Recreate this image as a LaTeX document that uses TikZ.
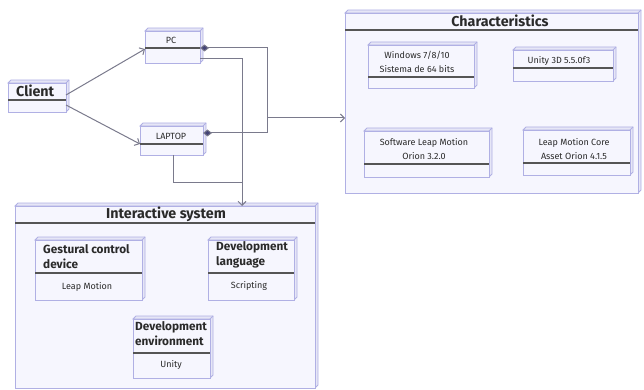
\documentclass[tikz,border=0pt]{standalone}
\usepackage{fontspec}
\setmainfont{Fira Sans}
\usetikzlibrary{arrows.meta}
\definecolor{boxline}{HTML}{B0B0E4}
\definecolor{boxfill}{HTML}{F6F6FE}
\definecolor{boxside}{HTML}{E6E6F6}
\definecolor{sepcol}{HTML}{555555}
\definecolor{conncol}{HTML}{7A7A8C}
\definecolor{txt}{HTML}{2A2A2A}
\tikzset{
  box/.style={draw=boxline, fill=boxfill, line width=0.8pt, inner sep=0pt, outer sep=0pt, rectangle},
  sepline/.style={draw=sepcol, line width=1.2pt},
  conn/.style={draw=conncol, line width=1pt},
  opentip/.style={-{Straight Barb[length=4pt,width=8pt]}},
  bigtitle/.style={font=\fontsize{14.3}{16}\selectfont\bfseries, text=txt, inner sep=0pt},
  midtitle/.style={font=\fontsize{11.8}{15}\selectfont\bfseries, text=txt, inner sep=0pt, align=left},
  small/.style={font=\fontsize{9}{14.5}\selectfont, text=txt, inner sep=0pt, align=center},
}
\newcommand\umlbox[6]{%
  \draw[draw=boxline, fill=boxside, line width=0.8pt] (#2,#3) -- ++(3,-3) -- (#4+3,#3-3) -- (#4+3,#5-3) -- (#4,#5) -- (#4,#3) -- cycle;
  \node[box, minimum width={#4-#2}, minimum height={#5-#3}, anchor=north west] (#1) at (#2,#3) {};
  \draw[draw=boxline, line width=0.8pt] (#4,#3) -- ++(3,-3);
  \draw[sepline] (#2,#6) -- (#4,#6);
}
\begin{document}
\begin{tikzpicture}[x=1pt,y=-1pt]
\useasboundingbox (0,0) rectangle (644,390);
% outer containers
\umlbox{chars}{345}{13}{638}{193}{30}
\node[bigtitle] (charsT) at (500,21) {Characteristics};
\umlbox{inter}{15}{206}{315}{388}{223}
\node[bigtitle] (interT) at (166,214) {Interactive system};
% client side
\umlbox{client}{8}{83}{66}{112}{100}
\node[bigtitle, anchor=west] (clientT) at (16,91) {Client};
\umlbox{pc}{145}{31}{200}{63}{48}
\node[small] (pcT) at (171,40) {PC};
\umlbox{laptop}{140}{126}{203}{155}{144}
\node[small] (laptopT) at (171,136) {LAPTOP};
% characteristics content
\umlbox{win}{368}{45}{474}{88}{77}
\node[small] (winT) at (417,62) {Windows 7/8/10\\Sistema de 64 bits};
\umlbox{unity}{513}{50}{613}{81}{68}
\node[small] (unityT) at (559,61) {Unity 3D 5.5.0f3};
\umlbox{slm}{364}{131}{489}{177}{164}
\node[small] (slmT) at (424,149) {Software Leap Motion\\Orion 3.2.0};
\umlbox{lmc}{523}{130}{630}{175}{163}
\node[small] (lmcT) at (574,149) {Leap Motion Core\\Asset Orion 4.1.5};
% interactive content
\umlbox{gest}{35}{240}{142}{300}{273}
\node[midtitle, anchor=north west] (gestT) at (43,244) {Gestural control\\device};
\node[small] (gestB) at (87,287) {Leap Motion};
\umlbox{lang}{208}{240}{294}{300}{273}
\node[midtitle, anchor=north west] (langT) at (216,241) {Development\\language};
\node[small] (langB) at (249,286) {Scripting};
\umlbox{env}{133}{319}{210}{378}{353}
\node[midtitle, anchor=north west] (envT) at (135,321) {Development\\environment};
\node[small] (envB) at (171,365) {Unity};
% connectors
\coordinate (cpc) at (66,95);
\coordinate (clap) at (66,105);
\coordinate (pcin) at (145,49);
\coordinate (lapin) at (140,144);
\draw[conn, opentip] (cpc) -- (pcin);
\draw[conn, opentip] (clap) -- (lapin);
\coordinate (pcd) at (200,48);
\coordinate (lapd) at (203,133);
\coordinate (busA) at (267,48);
\coordinate (busB) at (267,133);
\coordinate (busM) at (267,118);
\draw[conn, {Diamond[length=9pt,width=7pt,fill=sepcol!80!blue]}-{Diamond[length=9pt,width=7pt,fill=sepcol!80!blue]}] (pcd) -- (busA) -- (busB) -- (lapd);
\draw[conn, opentip] (busM) -- (chars.west |- busM);
\coordinate (pcb) at (200,59);
\coordinate (vbus) at (242,59);
\draw[conn, opentip] (pcb) -- (vbus) -- (inter.north -| vbus);
\coordinate (lapb) at (173,155);
\coordinate (lapc) at (173,182);
\coordinate (vj) at (242,182);
\draw[conn] (lapb) -- (lapc) -- (vj);
\end{tikzpicture}
\end{document}
